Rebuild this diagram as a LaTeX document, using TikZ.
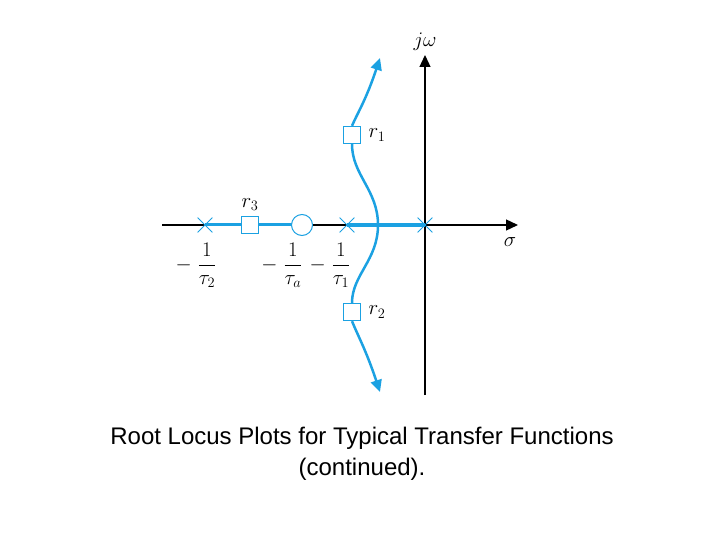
\documentclass[tikz,border=0pt]{standalone}
\usepackage{fontspec}
\setmainfont{Liberation Sans}
\usepackage{tikz}
\usetikzlibrary{shapes.misc, arrows.meta, positioning}
\definecolor{locus}{RGB}{27,161,226}

\begin{document}
\begin{tikzpicture}[
        x=1pt,
        y=-1pt,
        >={Triangle[length=12pt, width=11pt]},
        every node/.style={font=\fontsize{22}{26}\selectfont},
        pole/.style={cross out, draw=locus, line width=0.8pt, minimum size=14pt, inner sep=0pt},
        root/.style={rectangle, draw=locus, fill=white, line width=1.3pt, minimum size=17pt, inner sep=0pt},
        zero/.style={circle, draw=locus, fill=white, line width=1pt, minimum size=21pt, inner sep=0pt},
        branch/.style={locus, line width=3pt}
    ]
    \useasboundingbox (0,0) rectangle (720,540);

    % axes
    \coordinate (xl) at (162,225);
    \coordinate (xr) at (518,225);
    \coordinate (yb) at (425,395);
    \coordinate (yt) at (425,55);
    \draw[->, line width=1.3pt] (xl) -- (xr);
    \draw[->, line width=1.3pt] (yb) -- (yt);
    \node (jw) at (425,42) {\(j\omega\)};
    \node (sig) at (510,242) {\(\sigma\)};

    % real axis branches
    \node[pole] (p2) at (205,225) {};
    \node[pole] (p1) at (347,225) {};
    \node[pole] (p0) at (425,225) {};
    \coordinate (brk) at (378,225);
    \draw[branch] (p2.center) -- (302,225);
    \draw[branch, line width=3.5pt] (p1.center) -- (p0.center);
    \node[root] (r3) at (250,225) {};
    \node[zero] (za) at (302,225) {};

    % complex branches
    \node[root] (r1) at (352,135) {};
    \node[root] (r2) at (352,312) {};
    \coordinate (top) at (380,58);
    \coordinate (bot) at (380,392);
    \draw[branch, line width=2.5pt] (brk) .. controls (378,190) and (352,175) .. (r1.south);
    \draw[branch, line width=2.5pt, ->] (r1.north) .. controls (358,112) and (366,100) .. (top);
    \draw[branch, line width=2.5pt] (brk) .. controls (378,260) and (352,275) .. (r2.north);
    \draw[branch, line width=2.5pt, ->] (r2.south) .. controls (358,336) and (366,350) .. (bot);

    % labels
    \node[right=4pt of r1] (l1) {\(r_1\)};
    \node[right=4pt of r2] (l2) {\(r_2\)};
    \node[above=2pt of r3] (l3) {\(r_3\)};
    \node (f2) at (196,265) {\(\displaystyle -\;\frac{1}{\tau_2}\)};
    \node (fa) at (282,265) {\(\displaystyle -\;\frac{1}{\tau_a}\)};
    \node (f1) at (330,265) {\(\displaystyle -\;\frac{1}{\tau_1}\)};

    % caption
    \node[align=center, font=\fontsize{24}{31}\selectfont] (cap) at (362,454)
        {Root Locus Plots for Typical Transfer Functions\\(continued).};
\end{tikzpicture}
\end{document}
